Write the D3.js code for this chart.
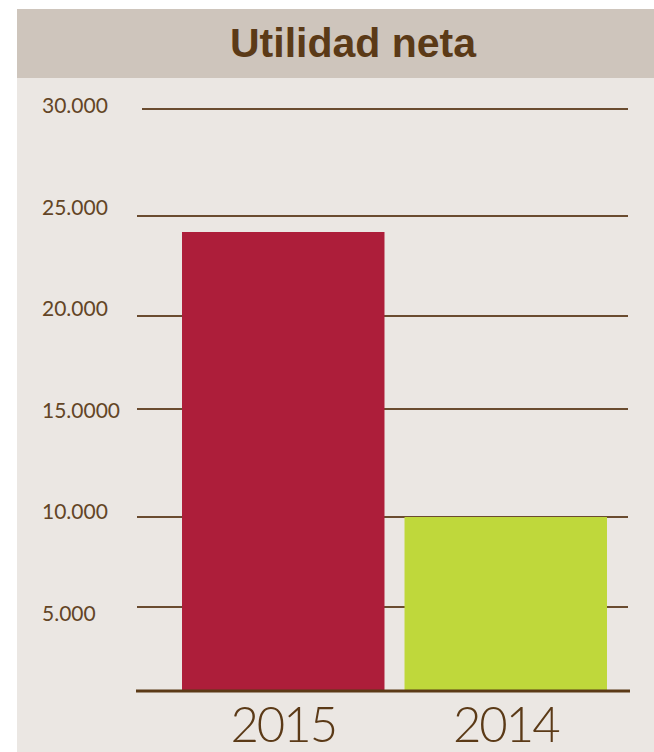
<!DOCTYPE html>
<html><head><meta charset="utf-8">
<script src="https://cdn.jsdelivr.net/npm/d3@7"></script>
<style>html,body{margin:0;padding:0;background:#fff;}svg{display:block;}</style>
</head><body>
<svg id="chart" width="654" height="752"></svg>
<script>
const title = "Utilidad neta";
const categories = ["2015", "2014"];
const values = [24200, 10000];
const barColors = ["#ad1e3a", "#bfd83b"];
const tickValues = [5000, 10000, 15000, 20000, 25000, 30000];
const tickLabels = ["5.000", "10.000", "15.0000", "20.000", "25.000", "30.000"];

const svg = d3.select("#chart");
const W = 654, H = 752;
const brown = "#5b3a17";

// panel and header
svg.append("rect").attr("x", 17).attr("y", 9).attr("width", W - 17).attr("height", H - 9).attr("fill", "#ebe7e3");
svg.append("rect").attr("x", 17).attr("y", 9).attr("width", W - 17).attr("height", 69).attr("fill", "#cec5bc");
svg.append("text").attr("x", 353).attr("y", 57).attr("text-anchor", "middle")
  .attr("font-family", "'Liberation Sans', Arial, sans-serif")
  .attr("font-weight", "bold").attr("font-size", 41)
  .attr("fill", brown).text(title);

// hand-drawn grid: piecewise linear scale following the reference's grid
const y = d3.scaleLinear()
  .domain([0, 5000, 10000, 15000, 20000, 25000, 30000])
  .range([690, 607, 517, 409, 316, 216, 109]);
// labels are evenly spaced
const yLab = d3.scaleLinear().domain([5000, 30000]).range([621, 113]);

const x = d3.scaleBand().domain(categories).range([172, 617]).paddingInner(0.09).paddingOuter(0.045);

const grid = svg.append("g");
grid.selectAll("line").data(tickValues).join("line")
  .attr("x1", d => d === 30000 ? 142 : 137).attr("x2", 628)
  .attr("y1", d => y(d)).attr("y2", d => y(d))
  .attr("stroke", "#6a4c30").attr("stroke-width", 2);

svg.append("g").selectAll("text").data(tickValues).join("text")
  .attr("x", 42).attr("y", d => yLab(d))
  .attr("font-family", "Lato, sans-serif").attr("font-size", 21).attr("font-weight", 400)
  .attr("fill", "#634526")
  .text((d, i) => tickLabels[i]);

svg.append("g").selectAll("rect").data(values).join("rect")
  .attr("x", (d, i) => x(categories[i]))
  .attr("width", x.bandwidth())
  .attr("y", d => y(d))
  .attr("height", d => y(0) - y(d))
  .attr("fill", (d, i) => barColors[i]);

// baseline
svg.append("line").attr("x1", 136).attr("x2", 630).attr("y1", y(0) + 1).attr("y2", y(0) + 1)
  .attr("stroke", brown).attr("stroke-width", 3);

svg.append("g").selectAll("text").data(categories).join("text")
  .attr("x", d => x(d) + x.bandwidth() / 2).attr("y", 742)
  .attr("text-anchor", "middle")
  .attr("font-family", "Lato, sans-serif").attr("font-weight", 300).attr("font-size", 49)
  .attr("letter-spacing", -2)
  .attr("fill", brown).text(d => d);
</script>
</body></html>
